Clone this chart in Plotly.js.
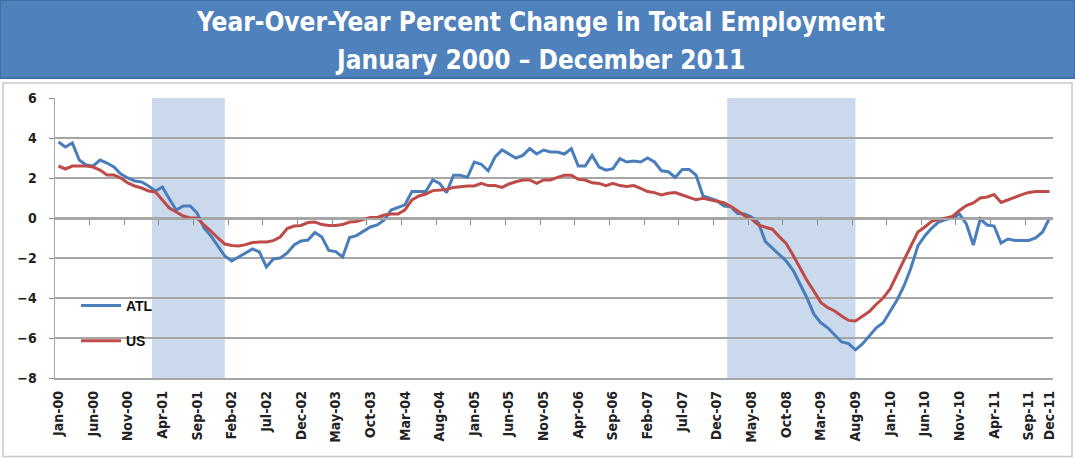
<!DOCTYPE html>
<html>
<head>
<meta charset="utf-8">
<script src="https://cdn.plot.ly/plotly-3.0.1.min.js"></script>
<style>html,body{margin:0;padding:0;background:#fff;}#chart{width:1075px;height:459px;}</style>
</head>
<body>
<div id="chart"></div>
<script>
// ---- Data ----
const titleLines = ["Year-Over-Year Percent Change in Total Employment", "January 2000 \u2013 December 2011"];
const monthNames = ["Jan","Feb","Mar","Apr","May","Jun","Jul","Aug","Sep","Oct","Nov","Dec"];
const years = ["00","01","02","03","04","05","06","07","08","09","10","11"];
const tickLabels = ["Jan-00","Jun-00","Nov-00","Apr-01","Sep-01","Feb-02","Jul-02","Dec-02","May-03","Oct-03","Mar-04","Aug-04","Jan-05","Jun-05","Nov-05","Apr-06","Sep-06","Feb-07","Jul-07","Dec-07","May-08","Oct-08","Mar-09","Aug-09","Jan-10","Jun-10","Nov-10","Apr-11","Sep-11","Dec-11"];
const atl = [3.8,3.55,3.75,2.9,2.65,2.6,2.9,2.75,2.55,2.2,2.0,1.85,
 1.8,1.6,1.35,1.55,0.95,0.4,0.6,0.6,0.25,-0.5,-0.9,-1.4,
 -1.9,-2.15,-1.95,-1.75,-1.55,-1.7,-2.45,-2.05,-2.0,-1.75,-1.35,-1.15,
 -1.1,-0.72,-0.95,-1.62,-1.68,-1.95,-0.98,-0.88,-0.65,-0.45,-0.35,-0.1,
 0.4,0.54,0.66,1.32,1.32,1.32,1.9,1.73,1.27,2.14,2.14,2.03,
 2.8,2.69,2.36,3.05,3.4,3.18,3.0,3.13,3.47,3.2,3.4,3.3,
 3.3,3.2,3.47,2.6,2.6,3.13,2.55,2.39,2.47,2.97,2.8,2.85,
 2.8,3.0,2.8,2.36,2.31,2.03,2.43,2.43,2.14,1.1,0.99,0.87,
 0.6,0.56,0.22,0.2,0.05,-0.25,-1.18,-1.52,-1.86,-2.15,-2.62,-3.29,
 -4.0,-4.81,-5.24,-5.49,-5.83,-6.2,-6.28,-6.59,-6.3,-5.91,-5.49,-5.24,
 -4.7,-4.1,-3.4,-2.5,-1.4,-0.9,-0.5,-0.2,-0.08,0.0,0.2,-0.3,
 -1.35,-0.05,-0.35,-0.4,-1.25,-1.05,-1.12,-1.12,-1.12,-1.0,-0.7,0.0];
const us = [2.6,2.45,2.6,2.6,2.6,2.55,2.4,2.15,2.15,2.0,1.75,1.6,
 1.5,1.35,1.3,0.9,0.5,0.3,0.1,0.0,0.0,-0.35,-0.65,-1.0,
 -1.3,-1.37,-1.4,-1.33,-1.23,-1.2,-1.2,-1.13,-0.95,-0.53,-0.4,-0.37,
 -0.23,-0.2,-0.33,-0.37,-0.37,-0.33,-0.2,-0.17,-0.07,0.03,0.03,0.15,
 0.2,0.2,0.41,0.9,1.1,1.2,1.37,1.4,1.43,1.53,1.58,1.6,
 1.6,1.73,1.62,1.62,1.53,1.7,1.81,1.9,1.9,1.73,1.9,1.9,
 2.03,2.14,2.14,1.93,1.9,1.76,1.73,1.62,1.73,1.62,1.57,1.62,
 1.48,1.32,1.27,1.15,1.24,1.27,1.15,1.04,0.91,0.99,0.91,0.85,
 0.76,0.59,0.34,0.12,-0.05,-0.34,-0.46,-0.56,-0.93,-1.27,-1.86,-2.48,
 -3.12,-3.66,-4.22,-4.48,-4.65,-4.9,-5.12,-5.15,-4.9,-4.68,-4.31,-4.0,
 -3.55,-2.8,-2.1,-1.4,-0.7,-0.45,-0.17,-0.08,0.0,0.08,0.38,0.62,
 0.75,1.0,1.05,1.17,0.78,0.92,1.05,1.17,1.28,1.33,1.33,1.33];
const recessionStart = ["Mar-01","Feb-08"];
const recessionEnd = ["Jan-02","Aug-09"];
const seriesNames = ["ATL","US"];
const seriesColors = ["#4A7EBB","#BE4B48"];

// ---- Build ----
const months = [];
years.forEach(y => monthNames.forEach(m => months.push(m + "-" + y)));
const idx = lbl => months.indexOf(lbl);

const W = 1075, H = 459, L = 55, R = 22, T = 98, B = 81;
const pw = W - L - R, ph = H - T - B;
const px = x => (x - L) / pw;         // pixel -> paper x
const py = y => (H - B - y) / ph;     // pixel -> paper y

const shapes = [];
// white legend area (covers gridlines like the original legend box)
shapes.push({type:"rect", xref:"paper", yref:"paper", x0:px(56.5), x1:px(174), y0:py(285), y1:py(362),
  fillcolor:"#ffffff", line:{width:0}, layer:"between"});
// recession shading (category index space), translucent so gridlines show through
recessionStart.forEach((s, k) => {
  shapes.push({type:"rect", xref:"x", yref:"paper", x0: idx(s) - 0.5, x1: idx(recessionEnd[k]),
    y0:0, y1:1, fillcolor:"rgba(79,129,189,0.3)", line:{width:0}, layer:"between"});
});
// banner
shapes.push({type:"rect", xref:"paper", yref:"paper", x0:px(0), x1:px(W), y0:py(0), y1:py(78),
  fillcolor:"#4F81BD", line:{color:"#3E6EA5", width:2}, layer:"above"});
// chart frame
shapes.push({type:"rect", xref:"paper", yref:"paper", x0:px(3), x1:px(1072), y0:py(83), y1:py(456.5),
  fillcolor:"rgba(0,0,0,0)", line:{color:"#C8C8C8", width:1.5}, layer:"below"});

const titleFont = {family:"'Liberation Sans Narrow','DejaVu Sans Condensed',sans-serif", size:26, color:"#ffffff", weight:700};
const annotations = [
  {text:titleLines[0], xref:"paper", yref:"paper", x:px(540), y:py(22), xanchor:"center", yanchor:"middle", showarrow:false, font:titleFont},
  {text:titleLines[1], xref:"paper", yref:"paper", x:px(540), y:py(60), xanchor:"center", yanchor:"middle", showarrow:false, font:titleFont}
];

const traces = [atl, us].map((vals, k) => ({
  type:"scatter", mode:"lines", x: months, y: vals, name: seriesNames[k],
  legendgroup: seriesNames[k],
  line:{color: seriesColors[k], width:3}
}));
// helper trace for the zero-line tick axis
const zeroTicks = [];
for (let v = 4.5; v < months.length; v += 5) zeroTicks.push(v);
traces.push({type:"scatter", mode:"lines", x:[0], y:[null], xaxis:"x2", yaxis:"y", showlegend:false, hoverinfo:"skip"});

const tickFont = {family:"'Liberation Sans Narrow','DejaVu Sans Condensed',sans-serif", size:14, color:"#222", weight:700};

const layout = {
  width:W, height:H, autosize:false,
  margin:{l:L, r:R, t:T, b:B, pad:0},
  paper_bgcolor:"#ffffff", plot_bgcolor:"#ffffff",
  showlegend:true,
  legend:{x:px(76), y:py(290), xanchor:"left", yanchor:"top", bgcolor:"rgba(0,0,0,0)",
    font:{family:"'Liberation Sans','DejaVu Sans',sans-serif", size:14, color:"#111", weight:700},
    itemwidth:40, tracegroupgap:14, borderwidth:0},
  xaxis:{type:"category", range:[-0.5, months.length - 0.5], tickvals: tickLabels, ticktext: tickLabels,
    tickangle:-90, ticks:"", ticklabelstandoff:6, showgrid:false, zeroline:false, showline:true, linecolor:"#A6A6A6", linewidth:1.5,
    tickfont: tickFont, automargin:false},
  xaxis2:{type:"linear", overlaying:"x", anchor:"free", position: 8/14, range:[-0.5, months.length - 0.5],
    tickvals: zeroTicks, ticks:"outside", ticklen:5, tickcolor:"#8C8C8C", tickwidth:1,
    showticklabels:false, showgrid:false, zeroline:false, showline:true, linecolor:"#A6A6A6", linewidth:1.5},
  yaxis:{range:[-8, 6], dtick:2, tick0:0, showgrid:true, gridcolor:"#A6A6A6", gridwidth:1.5, zeroline:false,
    showline:true, linecolor:"#A6A6A6", linewidth:1.5, ticks:"outside", ticklen:5, tickcolor:"#8C8C8C",
    ticklabelstandoff:9, tickfont: tickFont, automargin:false},
  shapes: shapes,
  annotations: annotations
};

Plotly.newPlot("chart", traces, layout, {staticPlot:true, displayModeBar:false});
</script>
</body>
</html>
